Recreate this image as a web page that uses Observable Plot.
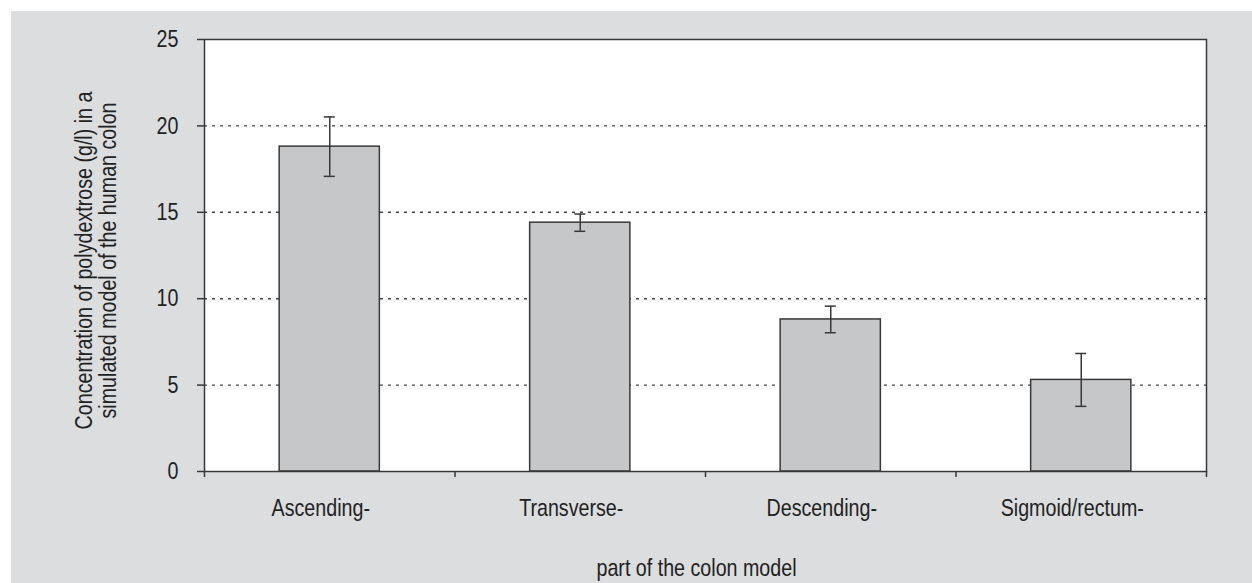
<!DOCTYPE html>
<html>
<head>
<meta charset="utf-8">
<script src="https://cdn.jsdelivr.net/npm/d3@7"></script>
<script src="https://cdn.jsdelivr.net/npm/@observablehq/plot@0.6"></script>
<style>
  html, body { margin: 0; padding: 0; background: #ffffff; }
  #wrap { position: relative; width: 1252px; height: 583px; overflow: hidden; }
  #bg { position: absolute; left: 11px; top: 11px; right: 0; bottom: 0; background: #dcdddf; }
  #chart { position: absolute; left: 0; top: 0; }
  #chart svg { background: transparent !important; }
</style>
</head>
<body>
<div id="wrap"><div id="bg"></div><div id="chart"></div></div>
<script>
const categories = ["Ascending-", "Transverse-", "Descending-", "Sigmoid/rectum-"];
const values = [18.8, 14.4, 8.8, 5.3];
const errors = [1.72, 0.5, 0.77, 1.53];
const yTicks = [0, 5, 10, 15, 20, 25];
const gridTicks = [5, 10, 15, 20];
const yLabel = "Concentration of polydextrose (g/l) in a\nsimulated model of the human colon";
const xLabel = "part of the colon model";

const data = categories.map((c, i) => ({i, c, v: values[i], e: errors[i]}));
const font = "'Liberation Sans', Arial, sans-serif";
const ink = "#383838";

const chart = Plot.plot({
  width: 1252,
  height: 583,
  marginLeft: 204,
  marginRight: 46,
  marginTop: 39,
  marginBottom: 112,
  style: {fontFamily: font, fontSize: "24px", color: "#222", background: "transparent"},
  x: {domain: [0, categories.length], axis: null},
  y: {domain: [0, 25], axis: null},
  marks: [
    Plot.frame({fill: "#ffffff"}),
    Plot.ruleY(gridTicks, {stroke: "#444", strokeWidth: 1.4, strokeDasharray: "3,5"}),
    Plot.rectY(data, {x1: d => d.i + 0.3, x2: d => d.i + 0.7, y1: 0, y2: "v", fill: "#c6c7c9", stroke: ink, strokeWidth: 1.5}),
    Plot.ruleX(data, {x: d => d.i + 0.5, y1: d => d.v - d.e, y2: d => d.v + d.e, stroke: ink, strokeWidth: 1.5}),
    Plot.ruleY(data, {y: d => d.v + d.e, x1: d => d.i + 0.478, x2: d => d.i + 0.522, stroke: ink, strokeWidth: 1.5}),
    Plot.ruleY(data, {y: d => d.v - d.e, x1: d => d.i + 0.478, x2: d => d.i + 0.522, stroke: ink, strokeWidth: 1.5}),
    Plot.frame({stroke: ink, strokeWidth: 1.5}),
    Plot.axisY({ticks: yTicks, tickSize: 7, tickPadding: 19, stroke: ink, strokeWidth: 1.5, label: null, fill: "#222", fontSize: 24}),
    Plot.axisX({ticks: d3.range(categories.length + 1), tickSize: 6, tickFormat: () => "", stroke: ink, strokeWidth: 1.5, label: null}),
    Plot.axisX({ticks: categories.map((c, i) => i + 0.5), tickSize: 0, tickPadding: 27, dx: -9,
      tickFormat: t => categories[Math.floor(t)], label: null, fill: "#222", fontSize: 24}),
    Plot.text([xLabel], {frameAnchor: "bottom", lineAnchor: "top", dy: 87, dx: -9, fill: "#222", fontSize: 24}),
    Plot.text([yLabel], {frameAnchor: "left", rotate: -90, textAnchor: "middle", lineAnchor: "middle",
      lineHeight: 1, dx: -108, dy: 5, fill: "#222", fontSize: 24})
  ]
});
document.getElementById("chart").appendChild(chart);

// Emulate the condensed (narrow) typeface of the original: squeeze each text along its own direction.
chart.querySelectorAll("text").forEach(t => {
  const tr = t.getAttribute("transform");
  if (tr) {
    t.setAttribute("transform", tr + " scale(0.82,1)");
  } else {
    const x = +(t.getAttribute("x") || 0), y = +(t.getAttribute("y") || 0);
    t.removeAttribute("x"); t.removeAttribute("y");
    t.setAttribute("transform", `translate(${x},${y}) scale(0.82,1)`);
  }
});
</script>
</body>
</html>
